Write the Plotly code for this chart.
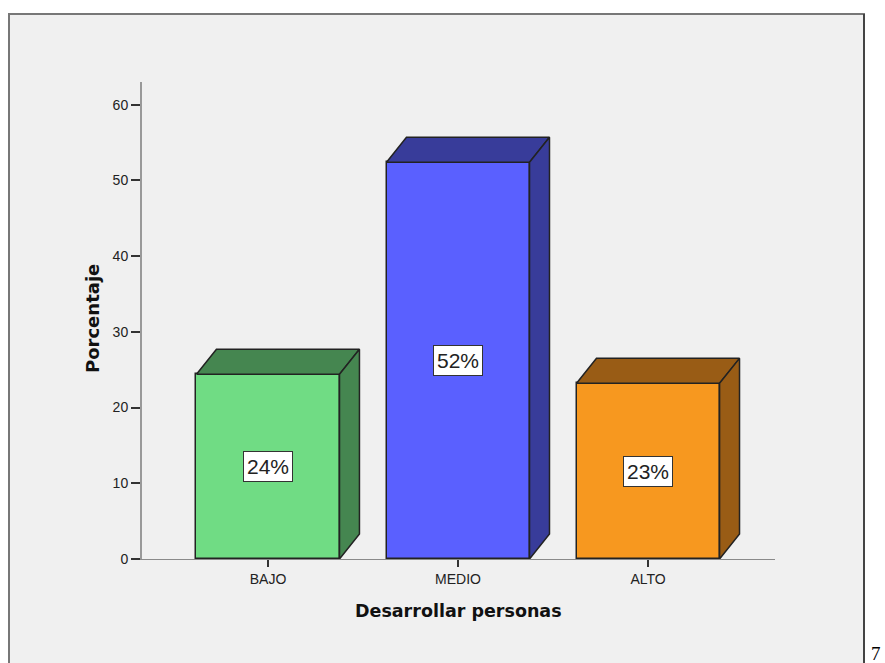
import plotly.graph_objects as go

categories = ["BAJO", "MEDIO", "ALTO"]
values = [24.4, 52.4, 23.2]
labels = ["24%", "52%", "23%"]
front_colors = ["#70dc84", "#5a60ff", "#f7981f"]
dark_colors = ["#458650", "#383c9a", "#995c15"]
y_ticks = [0, 10, 20, 30, 40, 50, 60]

W, H = 885, 663
L, R, T, B = 142, 110, 82, 104
x_range = [-0.663, 2.668]
y_range = [0, 63]
half_w = 0.3763
dx = 0.105
dy = 3.30
edge = "#222222"

fig = go.Figure()

xs = list(range(len(categories)))
fig.add_trace(go.Bar(
    x=xs, y=values, width=2 * half_w,
    marker=dict(color=front_colors, line=dict(color=edge, width=1.5)),
    hoverinfo="skip", showlegend=False,
))

for i, v in enumerate(values):
    c = xs[i]
    # top face
    fig.add_trace(go.Scatter(
        x=[c - half_w, c - half_w + dx, c + half_w + dx, c + half_w, c - half_w],
        y=[v, v + dy, v + dy, v, v],
        mode="lines", fill="toself", fillcolor=dark_colors[i],
        line=dict(color=edge, width=1.5), hoverinfo="skip", showlegend=False,
    ))
    # side face
    fig.add_trace(go.Scatter(
        x=[c + half_w, c + half_w + dx, c + half_w + dx, c + half_w, c + half_w],
        y=[0, dy, v + dy, v, 0],
        mode="lines", fill="toself", fillcolor=dark_colors[i],
        line=dict(color=edge, width=1.5), hoverinfo="skip", showlegend=False,
    ))
    fig.add_annotation(
        x=c, y=v / 2, xref="x", yref="y", text=labels[i], showarrow=False,
        font=dict(family="Liberation Sans, Arial", size=21, color="#222222"),
        bgcolor="white", bordercolor="#333333", borderwidth=1, borderpad=3,
    )

pw = W - L - R
ph = H - T - B


def px_x(p):
    return (p - L) / pw


def px_y(p):
    return (H - B - p) / ph


# gray panel
fig.add_shape(type="rect", xref="paper", yref="paper",
              x0=px_x(9), x1=px_x(864), y0=px_y(680), y1=px_y(14),
              fillcolor="#f0f0f0", line=dict(color="#777777", width=2), layer="below")
fig.add_shape(type="line", xref="paper", yref="paper",
              x0=px_x(864), x1=px_x(864), y0=px_y(680), y1=px_y(14),
              line=dict(color="#444444", width=2), layer="below")

# axis titles
fig.add_annotation(x=px_x(458), y=px_y(611), xref="paper", yref="paper",
                   xanchor="center", yanchor="middle",
                   text="<b>Desarrollar personas</b>", showarrow=False,
                   font=dict(family="DejaVu Sans", size=17.5, color="#111111"))
fig.add_annotation(x=px_x(92), y=px_y(319), xref="paper", yref="paper",
                   xanchor="center", yanchor="middle",
                   text="<b>Porcentaje</b>", showarrow=False, textangle=-90,
                   font=dict(family="DejaVu Sans", size=18, color="#111111"))
# stray character at bottom-right edge
fig.add_annotation(x=px_x(869), y=px_y(641), xref="paper", yref="paper",
                   xanchor="left", yanchor="top", text="7", showarrow=False,
                   font=dict(family="Liberation Serif, serif", size=19, color="#000000"))

fig.update_layout(
    width=W, height=H,
    margin=dict(l=L, r=R, t=T, b=B, pad=0),
    paper_bgcolor="white", plot_bgcolor="rgba(0,0,0,0)",
    bargap=0,
    xaxis=dict(range=x_range, tickvals=xs, ticktext=categories,
               showgrid=False, zeroline=False, showline=True,
               linecolor="#8a8a8a", linewidth=1,
               ticks="outside", ticklen=7, tickwidth=1.5, tickcolor="#333333",
               tickfont=dict(family="Liberation Sans, Arial", size=14, color="#222222"),
               fixedrange=True),
    yaxis=dict(range=y_range, tickvals=y_ticks,
               showgrid=False, zeroline=False, showline=True,
               linecolor="#999999", linewidth=2,
               ticks="outside", ticklen=9, tickwidth=2, tickcolor="#333333",
               tickfont=dict(family="Liberation Sans, Arial", size=14, color="#222222"),
               ticklabelstandoff=0,
               fixedrange=True),
)

fig.write_html("out.html")
